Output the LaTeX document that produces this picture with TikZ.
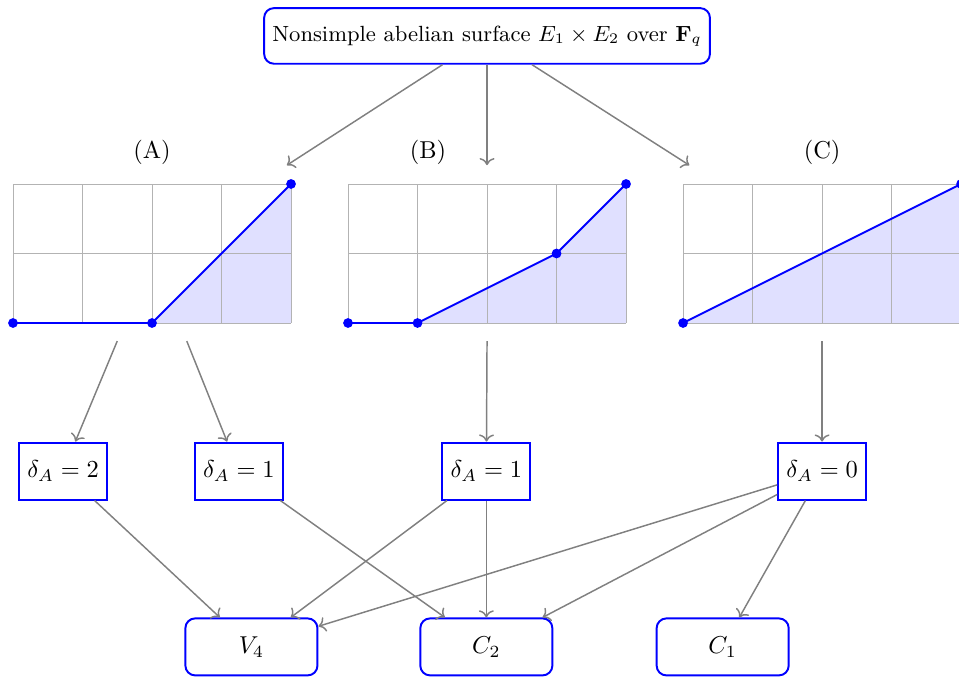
\documentclass[tikz,border=0pt]{standalone}
\usepackage{amsmath,amssymb}
\usepackage{tikz}
\usetikzlibrary{arrows.meta,positioning,calc}
\definecolor{EdgeGray}{HTML}{808080}
\definecolor{GridGray}{HTML}{B3B3B3}
\definecolor{NodeBlue}{HTML}{0000FF}
\definecolor{AreaBlue}{HTML}{E0E0FF}

\begin{document}
\begin{tikzpicture}[x=1cm,y=1cm,
  topbox/.style={draw=NodeBlue,thick,rounded corners,minimum height=0.8cm,font=\small},
  deltabox/.style={draw=NodeBlue,thick,minimum height=0.82cm},
  groupbox/.style={draw=NodeBlue,thick,rounded corners,minimum width=1.9cm,minimum height=0.82cm},
  conn/.style={EdgeGray,semithick,->}]
 \useasboundingbox (-0.187,-5.108) rectangle (13.61,4.647);
 % surface
 \node[topbox] (top) at (6.82,4.13) {Nonsimple abelian surface $E_1\times E_2$ over $\mathbf{F}_q$};
 % newton polygons
 \begin{scope}[shift={(0,0)}]
   \fill[AreaBlue] (0,0)--(2,0)--(4,2)--(4,0)--cycle;
   \draw[GridGray] (0,0) grid (4,2);
   \draw[NodeBlue,thick] (0,0)--(2,0)--(4,2);
   \foreach \x/\y in {0/0,2/0,4/2}{
     \fill[NodeBlue] (\x,\y) circle (2pt);}
 \end{scope}
 \begin{scope}[shift={(4.82,0)}]
   \fill[AreaBlue] (0,0)--(1,0)--(3,1)--(4,2)--(4,0)--cycle;
   \draw[GridGray] (0,0) grid (4,2);
   \draw[NodeBlue,thick] (0,0)--(1,0)--(3,1)--(4,2);
   \foreach \x/\y in {0/0,1/0,3/1,4/2}{
     \fill[NodeBlue] (\x,\y) circle (2pt);}
 \end{scope}
 \begin{scope}[shift={(9.64,0)}]
   \fill[AreaBlue] (0,0)--(4,2)--(4,0)--cycle;
   \draw[GridGray] (0,0) grid (4,2);
   \draw[NodeBlue,thick] (0,0)--(4,2);
   \foreach \x/\y in {0/0,4/2}{
     \fill[NodeBlue] (\x,\y) circle (2pt);}
 \end{scope}
 \node (labA) at (2,2.45) {(A)};
 \node (labB) at (5.97,2.45) {(B)};
 \node (labC) at (11.64,2.45) {(C)};
 % arrow ends
 \coordinate (inA) at (3.94,2.27);
 \coordinate (inB) at (6.82,2.27);
 \coordinate (inC) at (9.73,2.27);
 \coordinate (outA1) at (1.5,-0.26);
 \coordinate (outA2) at (2.5,-0.26);
 \coordinate (outB) at (6.82,-0.26);
 \coordinate (outC) at (11.64,-0.26);
 % delta values
 \node[deltabox] (dA2) at (0.72,-2.13) {$\delta_A=2$};
 \node[deltabox] (dA1) at (3.25,-2.13) {$\delta_A=1$};
 \node[deltabox] (dB1) at (6.81,-2.13) {$\delta_A=1$};
 \node[deltabox] (dC0) at (11.64,-2.13) {$\delta_A=0$};
 % groups
 \node[groupbox] (V4) at (3.43,-4.66) {$V_4$};
 \node[groupbox] (C2) at (6.81,-4.66) {$C_2$};
 \node[groupbox] (C1) at (10.21,-4.66) {$C_1$};
 % connectors
 \draw[conn] (top) -- (inA);
 \draw[conn] (top) -- (inB);
 \draw[conn] (top) -- (inC);
 \draw[conn] (outA1) -- (dA2);
 \draw[conn] (outA2) -- (dA1);
 \draw[conn] (outB) -- (dB1);
 \draw[conn] (outC) -- (dC0);
 \draw[conn] (dA2) -- (V4);
 \draw[conn] (dA1) -- (C2);
 \draw[conn] (dB1) -- (V4);
 \draw[conn] (dB1) -- (C2);
 \draw[conn] (dC0) -- (V4);
 \draw[conn] (dC0) -- (C2);
 \draw[conn] (dC0) -- (C1);
\end{tikzpicture}
\end{document}
